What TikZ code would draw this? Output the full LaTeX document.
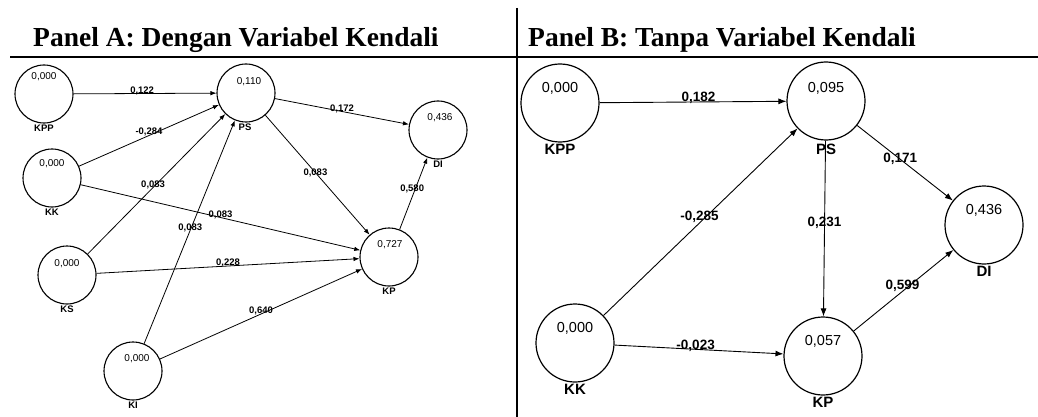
\documentclass[tikz,border=0pt]{standalone}
\usepackage{fontspec}
\setmainfont{Liberation Serif}
\setsansfont{Liberation Sans}
\usetikzlibrary{arrows.meta}
\begin{document}
\begin{tikzpicture}[x=1pt,y=-1pt,
 lv/.style={circle,draw,line width=1.1pt,minimum size=58pt,inner sep=0pt},
 lvb/.style={circle,draw,line width=1.2pt,minimum size=78pt,inner sep=0pt},
 va/.style={font=\sffamily\fontsize{10}{12}\selectfont},
 vbv/.style={font=\sffamily\fontsize{14.5}{16}\selectfont},
 na/.style={font=\sffamily\bfseries\fontsize{9.5}{11}\selectfont, inner sep=1pt},
 nb/.style={font=\sffamily\bfseries\fontsize{15}{17}\selectfont, inner sep=1pt},
 ea/.style={font=\sffamily\bfseries\fontsize{9.5}{11}\selectfont, inner sep=0.5pt},
 eb/.style={font=\sffamily\bfseries\fontsize{13.5}{15}\selectfont, inner sep=0.5pt},
 arra/.style={line width=0.8pt,-{Latex[length=6pt,width=4.5pt]}},
 arrb/.style={line width=0.9pt,-{Latex[length=8pt,width=6pt]}},
 ptitle/.style={font=\bfseries\fontsize{27.5}{30}\selectfont, anchor=base west, inner sep=0pt},
 rule/.style={line width=1.5pt}]

\useasboundingbox (0,0) rectangle (1038,417);

% titles and rules
\node[ptitle] (tA) at (33,47) {Panel A: Dengan Variabel Kendali};
\node[ptitle] (tB) at (528,47) {Panel B: Tanpa Variabel Kendali};
\coordinate (hl) at (10,57); \coordinate (hr) at (1038,57);
\draw[rule] (hl) -- (hr);
\coordinate (vtop) at (517,8); \coordinate (vbot) at (517,417);
\draw[rule] (vtop) -- (vbot);

% Panel A nodes
\node[lv, label={[va,yshift=17pt]center:0,000}, label={[na]below:KPP}] (aKPP) at (44,94) {};
\node[lv, label={[va,yshift=11pt,xshift=3pt]center:0,110}, label={[na,xshift=-1pt]below:PS}] (aPS) at (246,93) {};
\node[lv, label={[va,yshift=12pt,xshift=2pt]center:0,436}, label={[na]below:DI}] (aDI) at (438,130) {};
\node[lv, label={[va,yshift=14pt]center:0,000}, label={[na]below:KK}] (aKK) at (52,178) {};
\node[lv, label={[va,yshift=11pt]center:0,000}, label={[na]below:KS}] (aKS) at (67,275) {};
\node[lv, label={[va,yshift=12pt,xshift=4pt]center:0,000}, label={[na]below:KI}] (aKI) at (133,371) {};
\node[lv, label={[va,yshift=12pt,xshift=1pt]center:0,727}, label={[na]below:KP}] (aKP) at (389,257) {};

% Panel A edges
\draw[arra] (aKPP) -- node[ea,above=-2pt,pos=0.48]{0,122} (aPS);
\draw[arra] (aKK) -- node[ea,above=-1pt,pos=0.5]{-0,284} (aPS);
\draw[arra] (aKS) -- node[ea,pos=0.49,xshift=-2pt]{0,083} (aPS);
\draw[arra] (aKK) -- node[ea,above=-2pt,pos=0.5]{0,083} (aKP);
\draw[arra] (aKI) -- node[ea,pos=0.52,xshift=-1pt]{0,083} (aPS);
\draw[arra] (aPS) -- node[ea,above=-2pt,pos=0.5]{0,172} (aDI);
\draw[arra] (aPS) -- node[ea,pos=0.48]{0,083} (aKP);
\draw[arra] (aKP) -- node[ea,pos=0.56,xshift=-3pt]{0,580} (aDI);
\draw[arra] (aKS) -- node[ea,above=-2pt,pos=0.5]{0,228} (aKP);
\draw[arra] (aKI) -- node[ea,above=-2pt,pos=0.5]{0,640} (aKP);

% Panel B nodes
\node[lvb, label={[vbv,yshift=15pt]center:0,000}, label={[nb]below:KPP}] (bKPP) at (560,103) {};
\node[lvb, label={[vbv,yshift=13pt]center:0,095}, label={[nb,yshift=-2pt]below:PS}] (bPS) at (826,101) {};
\node[lvb, label={[vbv,yshift=15pt]center:0,436}, label={[nb]below:DI}] (bDI) at (984,225) {};
\node[lvb, label={[vbv,yshift=15pt]center:0,000}, label={[nb]below:KK}] (bKK) at (575,343) {};
\node[lvb, label={[vbv,yshift=15pt]center:0,057}, label={[nb]below:KP}] (bKP) at (823,356) {};

% Panel B edges
\draw[arrb] (bKPP) -- node[eb,above=-3pt,pos=0.53]{0,182} (bPS);
\draw[arrb] (bPS) -- node[eb,pos=0.45]{0,171} (bDI);
\draw[arrb] (bKK) -- node[eb,pos=0.51,xshift=-3pt,yshift=3pt]{-0,285} (bPS);
\draw[arrb] (bPS) -- node[eb,pos=0.47]{0,231} (bKP);
\draw[arrb] (bKP) -- node[eb,pos=0.52,xshift=-3pt,yshift=3pt]{0,599} (bDI);
\draw[arrb] (bKK) -- node[eb,above=-3pt,pos=0.48]{-0,023} (bKP);
\end{tikzpicture}
\end{document}
